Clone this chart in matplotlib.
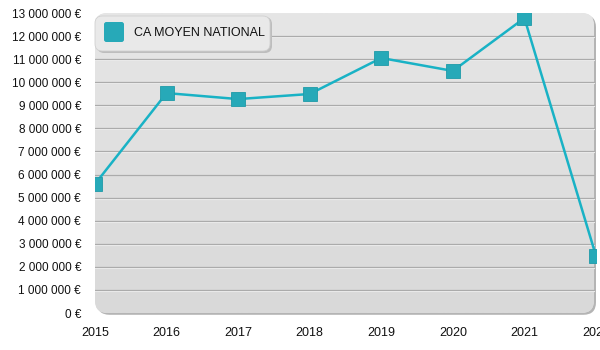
import numpy as np
import matplotlib
matplotlib.use("Agg")
import matplotlib.pyplot as plt
from matplotlib.patches import FancyBboxPatch
from matplotlib.ticker import FuncFormatter

plt.rcParams['font.family'] = ['Liberation Sans', 'DejaVu Sans']

years = [2015, 2016, 2017, 2018, 2019, 2020, 2021, 2022]
ca_moyen = [5590000, 9530000, 9270000, 9490000, 11050000, 10490000, 12780000, 2470000]
series_name = "CA MOYEN NATIONAL"
y_ticks = list(range(0, 13000001, 1000000))

W, H = 600, 350
fig = plt.figure(figsize=(W / 100, H / 100), dpi=100)
fig.patch.set_facecolor('white')
ax = fig.add_axes([95 / W, 1 - 313 / H, 501 / W, 300 / H])
ax.set_xlim(years[0], years[-1])
ax.set_ylim(0, 13000000)
ax.patch.set_visible(False)
for s in ax.spines.values():
    s.set_visible(False)

# rounded background with shadow
shadow = FancyBboxPatch((0.004, -0.006), 0.996, 1.0, boxstyle="round,pad=0,rounding_size=0.025",
                        transform=ax.transAxes, facecolor='#b4b4b4', edgecolor='none',
                        mutation_aspect=501 / 300, zorder=0, clip_on=False)
ax.add_patch(shadow)
bg = FancyBboxPatch((0, 0), 0.996, 1.0, boxstyle="round,pad=0,rounding_size=0.025",
                    transform=ax.transAxes, facecolor='#e0e0e0', edgecolor='none',
                    mutation_aspect=501 / 300, zorder=0.1, clip_on=False)
ax.add_patch(bg)
grad = np.linspace(0, 1, 256).reshape(-1, 1)
im = ax.imshow(grad, cmap=matplotlib.colors.LinearSegmentedColormap.from_list('g', ['#d9d9d9', '#e6e6e6']),
               extent=[0, 0.996, 0, 1], transform=ax.transAxes, aspect='auto', origin='lower',
               zorder=0.2, clip_on=True)
im.set_clip_path(bg)

for t in y_ticks[1:-1]:
    ax.axhline(t, color='#ababab', lw=0.9, zorder=0.5, xmax=0.996)
    ax.axhline(t - 40000, color='#f2f2f2', lw=0.8, zorder=0.45, xmax=0.996)

ax.plot(years, ca_moyen, color='#19b2c5', lw=1.8, zorder=2)
ax.plot(years, ca_moyen, ls='none', marker='s', ms=9.5, mfc='#27a9b8', mec='#1e9aa8',
        mew=0.6, zorder=3)

ax.set_yticks(y_ticks)
ax.yaxis.set_major_formatter(FuncFormatter(lambda v, p: f"{int(v):,} €".replace(",", " ")))
ax.set_xticks(years)
ax.set_xticklabels([str(y) for y in years])
ax.tick_params(axis='y', length=0, pad=10, labelsize=8.5, labelcolor='#111111')
ax.tick_params(axis='x', length=0, pad=10, labelsize=9, labelcolor='#111111')

# legend
def px(x, y):
    return (x / W, 1 - y / H)

lshadow = FancyBboxPatch(px(97, 53), 175 / W, 36 / H, boxstyle="round,pad=0,rounding_size=0.012",
                         transform=fig.transFigure, facecolor='#bdbdbd', edgecolor='none',
                         mutation_aspect=W / H, zorder=4)
fig.patches.append(lshadow)
lbox = FancyBboxPatch(px(95, 51), 175 / W, 35 / H, boxstyle="round,pad=0,rounding_size=0.012",
                      transform=fig.transFigure, facecolor='#e9e9e9', edgecolor='#d0d0d0', lw=0.6,
                      mutation_aspect=W / H, zorder=5)
fig.patches.append(lbox)
lm = FancyBboxPatch(px(104, 42), 20 / W, 20 / H, boxstyle="round,pad=0,rounding_size=0.004",
                    transform=fig.transFigure, facecolor='#27a9b8', edgecolor='none',
                    mutation_aspect=W / H, zorder=6)
fig.patches.append(lm)
fig.text(134 / W, 1 - 32.5 / H, series_name, fontsize=9, va='center', ha='left',
         color='#111111', zorder=7)

fig.savefig("out.png", dpi=100)
